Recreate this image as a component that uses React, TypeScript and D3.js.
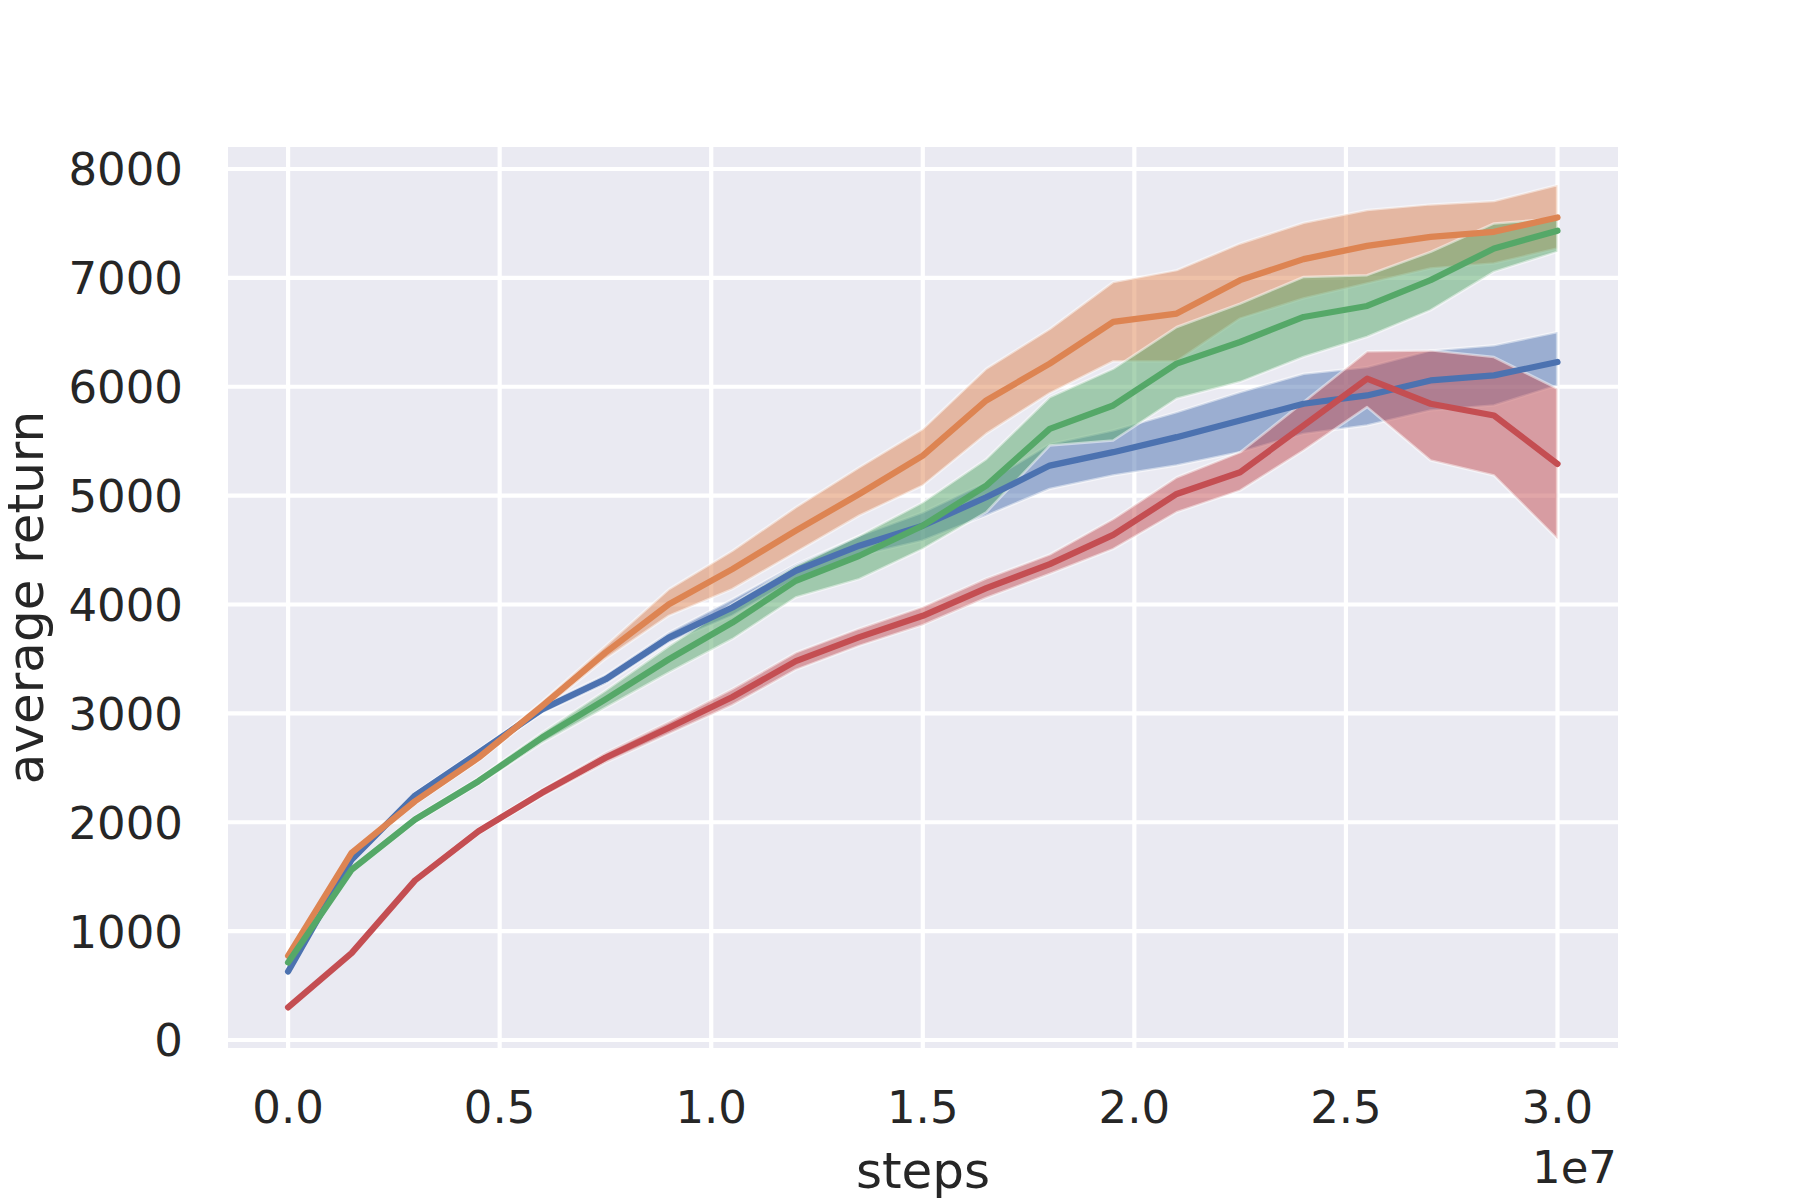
import React, { useRef, useEffect } from 'react'
import * as d3 from 'd3'

// 横轴：训练步数
const steps = [0, 1500000, 3000000, 4500000, 6000000, 7500000, 9000000, 10500000, 12000000, 13500000, 15000000,
  16500000, 18000000, 19500000, 21000000, 22500000, 24000000, 25500000, 27000000, 28500000, 30000000]

// 蓝
const blueMean = [629, 1656, 2245, 2638, 3037, 3313, 3696, 3972, 4310, 4540, 4724, 4985, 5276, 5399, 5537, 5690, 5844, 5920, 6058, 6104, 6227]
const blueLow = [610, 1630, 2215, 2605, 3000, 3270, 3650, 3896, 4233, 4448, 4586, 4816, 5061, 5184, 5276, 5399, 5567, 5644, 5782, 5828, 6012]
const blueHigh = [648, 1680, 2275, 2670, 3075, 3355, 3745, 4049, 4371, 4632, 4847, 5123, 5475, 5600, 5767, 5951, 6120, 6181, 6334, 6380, 6503]

// 橙
const orangeMean = [773, 1718, 2193, 2592, 3067, 3558, 4003, 4325, 4678, 5015, 5368, 5874, 6212, 6595, 6672, 6979, 7172, 7294, 7377, 7423, 7555]
const orangeLow = [750, 1695, 2165, 2560, 3025, 3500, 3896, 4141, 4479, 4816, 5092, 5567, 5940, 6233, 6233, 6626, 6810, 6948, 7086, 7132, 7270]
const orangeHigh = [795, 1740, 2220, 2625, 3110, 3620, 4141, 4494, 4893, 5261, 5613, 6166, 6530, 6963, 7071, 7316, 7506, 7623, 7675, 7706, 7853]

// 绿
const greenMean = [712, 1564, 2025, 2377, 2776, 3129, 3497, 3834, 4218, 4448, 4724, 5092, 5613, 5828, 6212, 6411, 6641, 6742, 6979, 7270, 7433]
const greenLow = [690, 1540, 1995, 2345, 2725, 3050, 3374, 3681, 4064, 4233, 4509, 4847, 5460, 5506, 5890, 6043, 6273, 6457, 6702, 7055, 7239]
const greenHigh = [735, 1590, 2055, 2410, 2825, 3210, 3620, 4003, 4356, 4632, 4939, 5337, 5905, 6166, 6549, 6764, 7009, 7025, 7239, 7500, 7546]

// 红
const redMean = [300, 798, 1466, 1917, 2270, 2592, 2868, 3150, 3480, 3700, 3896, 4150, 4371, 4640, 5015, 5215, 5644, 6074, 5844, 5736, 5291]
const redLow = [285, 780, 1445, 1890, 2235, 2545, 2810, 3075, 3400, 3620, 3810, 4060, 4280, 4509, 4847, 5046, 5414, 5813, 5322, 5184, 4601]
const redHigh = [315, 815, 1490, 1945, 2305, 2640, 2925, 3225, 3560, 3780, 3980, 4240, 4460, 4785, 5169, 5399, 5859, 6325, 6334, 6273, 5982]

const xTicks = [0, 5000000, 10000000, 15000000, 20000000, 25000000, 30000000]
const xTickLabels = ['0.0', '0.5', '1.0', '1.5', '2.0', '2.5', '3.0']
const yTicks = [0, 1000, 2000, 3000, 4000, 5000, 6000, 7000, 8000]

export default function App() {
  const ref = useRef<SVGSVGElement>(null)
  useEffect(() => {
    if (!ref.current) return
    const svg = d3.select(ref.current)
    svg.selectAll('*').remove()

    //布局
    const [top, right, bottom, left] = [147, 1618, 1048, 228]
    const font = 'DejaVu Sans'
    const textColor = '#262626'

    const x = d3.scaleLinear().domain([-1420000, 31430000]).range([left, right])
    const y = d3.scaleLinear().domain([-73.5, 8202]).range([bottom, top])

    const series = [
      { mean: blueMean, low: blueLow, high: blueHigh, color: '#4c72b0' },
      { mean: orangeMean, low: orangeLow, high: orangeHigh, color: '#dd8452' },
      { mean: greenMean, low: greenLow, high: greenHigh, color: '#55a868' },
      { mean: redMean, low: redLow, high: redHigh, color: '#c44e52' },
    ]

    //背景
    svg.append('rect')
      .attr('x', left).attr('y', top)
      .attr('width', right - left).attr('height', bottom - top)
      .attr('fill', '#eaeaf2')

    //网格
    const grid = svg.append('g')
    grid.selectAll('.gx').data(xTicks).enter().append('line')
      .attr('x1', d => x(d)).attr('x2', d => x(d))
      .attr('y1', top).attr('y2', bottom)
      .attr('stroke', 'white').attr('stroke-width', 4.2)
    grid.selectAll('.gy').data(yTicks).enter().append('line')
      .attr('x1', left).attr('x2', right)
      .attr('y1', d => y(d)).attr('y2', d => y(d))
      .attr('stroke', 'white').attr('stroke-width', 4.2)

    //误差带
    series.forEach(s => {
      const area = d3.area<number>()
        .x((_, i) => x(steps[i]))
        .y0((_, i) => y(s.low[i]))
        .y1((_, i) => y(s.high[i]))
      svg.append('path')
        .attr('d', area(s.mean))
        .attr('fill', s.color)
        .attr('fill-opacity', 0.5)
        .attr('stroke', 'white')
        .attr('stroke-opacity', 0.5)
        .attr('stroke-width', 2.5)
        .attr('stroke-linejoin', 'round')
    })

    //曲线
    series.forEach(s => {
      const line = d3.line<number>()
        .x((_, i) => x(steps[i]))
        .y(d => y(d))
      svg.append('path')
        .attr('d', line(s.mean))
        .attr('fill', 'none')
        .attr('stroke', s.color)
        .attr('stroke-width', 6.25)
        .attr('stroke-linecap', 'round')
        .attr('stroke-linejoin', 'round')
    })

    //刻度
    svg.append('g').selectAll('text').data(xTicks).enter().append('text')
      .attr('x', d => x(d)).attr('y', 1123)
      .attr('text-anchor', 'middle')
      .attr('font-family', font).attr('font-size', 45).attr('fill', textColor)
      .text((_, i) => xTickLabels[i])
    svg.append('g').selectAll('text').data(yTicks).enter().append('text')
      .attr('x', 183).attr('y', d => y(d) + 16.4)
      .attr('text-anchor', 'end')
      .attr('font-family', font).attr('font-size', 45).attr('fill', textColor)
      .text(d => String(d))

    svg.append('text')
      .attr('x', 1617).attr('y', 1183)
      .attr('text-anchor', 'end')
      .attr('font-family', font).attr('font-size', 45).attr('fill', textColor)
      .text('1e7')

    //轴标题
    svg.append('text')
      .attr('x', (left + right) / 2).attr('y', 1188)
      .attr('text-anchor', 'middle')
      .attr('font-family', font).attr('font-size', 50).attr('fill', textColor)
      .text('steps')
    svg.append('text')
      .attr('transform', `translate(43,${(top + bottom) / 2}) rotate(-90)`)
      .attr('text-anchor', 'middle')
      .attr('font-family', font).attr('font-size', 50).attr('fill', textColor)
      .text('average return')
  }, [])

  return (
    <svg
      ref={ref}
      width={1800}
      height={1200}
      style={{ position: 'absolute', left: 0, top: 0, background: 'white' }}
    />
  )
}
